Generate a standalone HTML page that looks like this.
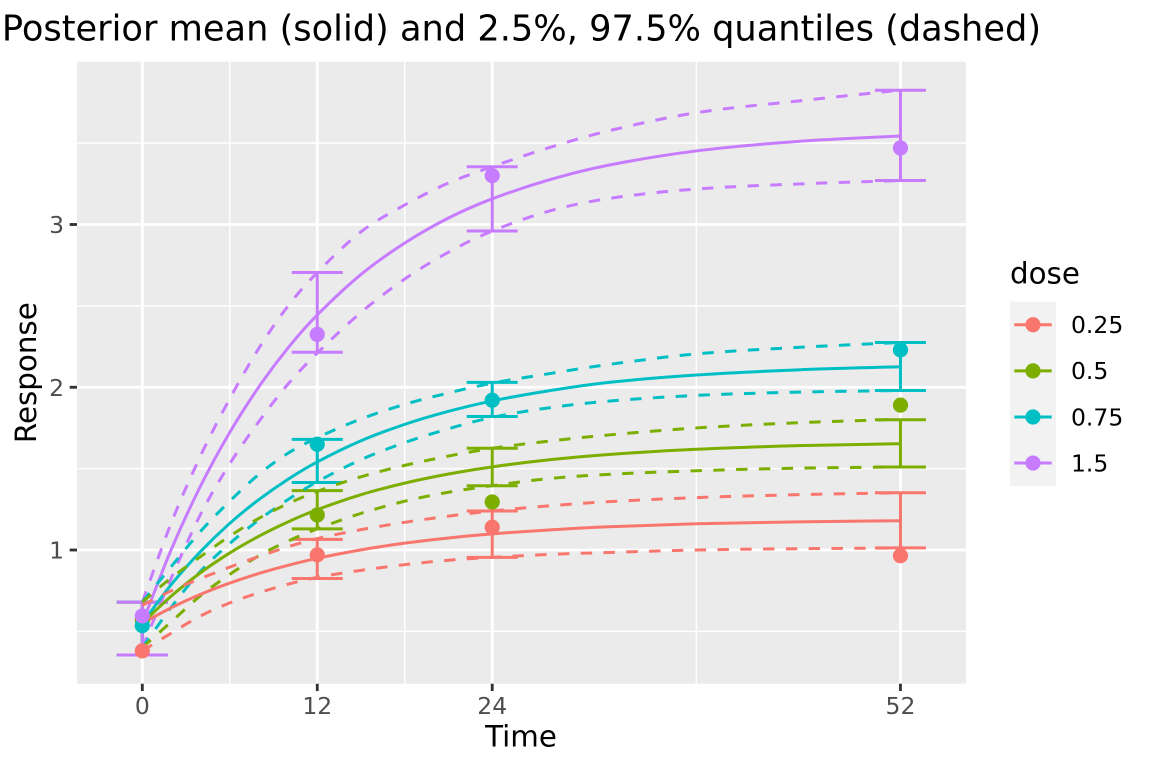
<!DOCTYPE html>
<html lang="en">
<head>
<meta charset="utf-8">
<title>Posterior mean and quantiles</title>
<style>
html,body{margin:0;padding:0;background:#fff;}
svg{display:block;}
text{font-family:"DejaVu Sans","Liberation Sans",sans-serif;}
</style>
</head>
<body>
<svg id="chart" xmlns="http://www.w3.org/2000/svg" width="1152" height="768" viewBox="0 0 1152 768">
  <rect x="0" y="0" width="1152" height="768" fill="#fff"/>
  <text x="521.5" y="40.7" font-size="35.2" text-anchor="middle" fill="#000">Posterior mean (solid) and 2.5%, 97.5% quantiles (dashed)</text>
  <rect x="77" y="61.7" width="889" height="622" fill="#EBEBEB"/>
  <g id="grid"></g>
  <g id="bars"></g>
  <g id="lines"></g>
  <g id="points"></g>
  <g id="axes"></g>
  <text x="521" y="746.7" font-size="29.33" text-anchor="middle" fill="#000">Time</text>
  <text transform="translate(36 372.7) rotate(-90)" font-size="29.33" text-anchor="middle" fill="#000">Response</text>
  <text x="1010" y="283.5" font-size="29.33" fill="#000">dose</text>
  <g id="legend"></g>
</svg>
<script>
// ---- data ----
const doses = ['0.25', '0.5', '0.75', '1.5'];
const doseColors = ['#F8766D', '#7CAE00', '#00BFC4', '#C77CFF'];
const xTicks = [0, 12, 24, 52];
const xMinorTicks = [6, 18, 38];
const yTicks = [1, 2, 3];
const yMinorTicks = [0.5, 1.5, 2.5, 3.5];

const curveTimes = [0, 2, 4, 6, 8, 10, 12, 15, 18, 21, 24, 28, 32, 38, 45, 52];
const meanDose025 = [0.55, 0.646, 0.728, 0.797, 0.856, 0.906, 0.949, 1.001, 1.042, 1.074, 1.099, 1.124, 1.143, 1.161, 1.173, 1.18];
const meanDose05 = [0.55, 0.718, 0.861, 0.982, 1.085, 1.173, 1.248, 1.34, 1.411, 1.467, 1.511, 1.555, 1.587, 1.619, 1.641, 1.653];
const meanDose075 = [0.55, 0.789, 0.991, 1.164, 1.31, 1.435, 1.541, 1.671, 1.772, 1.852, 1.916, 1.98, 2.03, 2.075, 2.107, 2.126];
const meanDose15 = [0.55, 1.006, 1.394, 1.723, 2.003, 2.242, 2.444, 2.693, 2.886, 3.04, 3.158, 3.277, 3.365, 3.452, 3.511, 3.544];

const upperDose025 = [0.66, 0.75, 0.825, 0.895, 0.96, 1.02, 1.07, 1.125, 1.17, 1.208, 1.24, 1.272, 1.297, 1.322, 1.34, 1.352];
const upperDose05 = [0.68, 0.83, 0.96, 1.085, 1.195, 1.285, 1.36, 1.45, 1.52, 1.577, 1.625, 1.67, 1.707, 1.75, 1.782, 1.803];
const upperDose075 = [0.68, 0.9, 1.115, 1.3, 1.465, 1.595, 1.69, 1.805, 1.895, 1.965, 2.025, 2.085, 2.14, 2.205, 2.245, 2.275];
const upperDose15 = [0.68, 1.17, 1.58, 1.93, 2.24, 2.5, 2.705, 2.955, 3.12, 3.255, 3.355, 3.475, 3.576, 3.687, 3.759, 3.826];

const lowerDose025 = [0.38, 0.49, 0.595, 0.675, 0.737, 0.79, 0.832, 0.875, 0.91, 0.937, 0.955, 0.973, 0.985, 1.0, 1.008, 1.012];
const lowerDose05 = [0.4, 0.56, 0.72, 0.85, 0.965, 1.055, 1.13, 1.225, 1.3, 1.355, 1.395, 1.44, 1.465, 1.487, 1.503, 1.51];
const lowerDose075 = [0.4, 0.65, 0.87, 1.04, 1.185, 1.31, 1.42, 1.555, 1.66, 1.745, 1.815, 1.875, 1.915, 1.95, 1.97, 1.98];
const lowerDose15 = [0.4, 0.83, 1.22, 1.53, 1.79, 2.02, 2.21, 2.46, 2.665, 2.83, 2.96, 3.085, 3.16, 3.218, 3.249, 3.27];

const obsTimes = [0, 12, 24, 52];
const obsDose025 = [0.38, 0.97, 1.14, 0.965];
const obsDose05 = [0.57, 1.215, 1.295, 1.89];
const obsDose075 = [0.535, 1.65, 1.92, 2.23];
const obsDose15 = [0.595, 2.325, 3.30, 3.47];

const barLowDose025 = [0.355, 0.825, 0.955, 1.013];
const barLowDose05 = [0.355, 1.13, 1.395, 1.51];
const barLowDose075 = [0.355, 1.415, 1.82, 1.98];
const barLowDose15 = [0.355, 2.215, 2.96, 3.27];
const barHighDose025 = [0.68, 1.065, 1.24, 1.352];
const barHighDose05 = [0.68, 1.365, 1.625, 1.80];
const barHighDose075 = [0.68, 1.68, 2.03, 2.275];
const barHighDose15 = [0.68, 2.705, 3.355, 3.825];

const means = [meanDose025, meanDose05, meanDose075, meanDose15];
const uppers = [upperDose025, upperDose05, upperDose075, upperDose15];
const lowers = [lowerDose025, lowerDose05, lowerDose075, lowerDose15];
const observations = [obsDose025, obsDose05, obsDose075, obsDose15];
const barLows = [barLowDose025, barLowDose05, barLowDose075, barLowDose15];
const barHighs = [barHighDose025, barHighDose05, barHighDose075, barHighDose15];

// ---- scales ----
const NS = 'http://www.w3.org/2000/svg';
function xScale(t) { return 142.3 + 14.58 * t; }
function yScale(v) { return 550 - (v - 1) * 162.75; }
const PANEL = { left: 77, right: 966, top: 61.7, bottom: 683.7 };
const LW = 2.85;
const MARK_LW = 3;
const CAP = 25.5;

function make(tag, parent, attrs) {
  const el = document.createElementNS(NS, tag);
  for (const k in attrs) el.setAttribute(k, attrs[k]);
  parent.appendChild(el);
  return el;
}

function curvePath(ts, vs) {
  const xs = ts.map(xScale);
  const ys = vs.map(yScale);
  const n = xs.length;
  const slope = [];
  for (let i = 0; i < n; i++) {
    const a = Math.max(i - 1, 0);
    const b = Math.min(i + 1, n - 1);
    slope.push((ys[b] - ys[a]) / (xs[b] - xs[a]));
  }
  let d = 'M' + xs[0].toFixed(2) + ' ' + ys[0].toFixed(2);
  for (let i = 0; i < n - 1; i++) {
    const dx = (xs[i + 1] - xs[i]) / 3;
    d += 'C' + (xs[i] + dx).toFixed(2) + ' ' + (ys[i] + slope[i] * dx).toFixed(2) + ' ' +
      (xs[i + 1] - dx).toFixed(2) + ' ' + (ys[i + 1] - slope[i + 1] * dx).toFixed(2) + ' ' +
      xs[i + 1].toFixed(2) + ' ' + ys[i + 1].toFixed(2);
  }
  return d;
}

// ---- gridlines ----
const grid = document.getElementById('grid');
yMinorTicks.forEach(function (v) {
  const el = make('line', grid, { x1: PANEL.left, x2: PANEL.right, y1: yScale(v), y2: yScale(v), stroke: '#fff', 'stroke-width': LW / 2 });
  
  
});
xMinorTicks.forEach(function (t) {
  const el = make('line', grid, { x1: xScale(t), x2: xScale(t), y1: PANEL.top, y2: PANEL.bottom, stroke: '#fff', 'stroke-width': LW / 2 });
  
  
});
yTicks.forEach(function (v) {
  const el = make('line', grid, { x1: PANEL.left, x2: PANEL.right, y1: yScale(v), y2: yScale(v), stroke: '#fff', 'stroke-width': LW });
  
  
});
xTicks.forEach(function (t) {
  const el = make('line', grid, { x1: xScale(t), x2: xScale(t), y1: PANEL.top, y2: PANEL.bottom, stroke: '#fff', 'stroke-width': LW });
  
  
});

// ---- error bars ----
const barsG = document.getElementById('bars');
doses.forEach(function (dose, d) {
  obsTimes.forEach(function (t, i) {
    const x = xScale(t);
    const lo = yScale(barLows[d][i]);
    const hi = yScale(barHighs[d][i]);
    const path = 'M' + (x - CAP) + ' ' + hi + 'H' + (x + CAP) + 'M' + x + ' ' + hi + 'V' + lo + 'M' + (x - CAP) + ' ' + lo + 'H' + (x + CAP);
    const el = make('path', barsG, { d: path, fill: 'none', stroke: doseColors[d], 'stroke-width': MARK_LW });
    
    
  });
});

// ---- curves (highest dose first, lowest on top) ----
const linesG = document.getElementById('lines');
for (let d = doses.length - 1; d >= 0; d--) {
  const upper = make('path', linesG, { d: curvePath(curveTimes, uppers[d]), fill: 'none', stroke: doseColors[d], 'stroke-width': MARK_LW, 'stroke-dasharray': '11.4 11.4' });
  
  
  const lower = make('path', linesG, { d: curvePath(curveTimes, lowers[d]), fill: 'none', stroke: doseColors[d], 'stroke-width': MARK_LW, 'stroke-dasharray': '11.4 11.4' });
  
  
  const mean = make('path', linesG, { d: curvePath(curveTimes, means[d]), fill: 'none', stroke: doseColors[d], 'stroke-width': MARK_LW });
  
  
}

// ---- points ----
const pointsG = document.getElementById('points');
doses.forEach(function (dose, d) {
  obsTimes.forEach(function (t, i) {
    const el = make('circle', pointsG, { cx: xScale(t), cy: yScale(observations[d][i]), r: 7.6, fill: doseColors[d] });
    
    
  });
});

// ---- axes ----
const axesG = document.getElementById('axes');
xTicks.forEach(function (t) {
  const tick = make('line', axesG, { x1: xScale(t), x2: xScale(t), y1: PANEL.bottom, y2: PANEL.bottom + 7.33, stroke: '#333333', 'stroke-width': LW });
  
  
  const label = make('text', axesG, { x: xScale(t), y: 714, 'font-size': 23.47, 'text-anchor': 'middle', fill: '#4D4D4D' });
  label.textContent = String(t);
  
  
});
yTicks.forEach(function (v) {
  const tick = make('line', axesG, { x1: PANEL.left - 7.33, x2: PANEL.left, y1: yScale(v), y2: yScale(v), stroke: '#333333', 'stroke-width': LW });
  
  
  const label = make('text', axesG, { x: 64, y: yScale(v) + 8.5, 'font-size': 23.47, 'text-anchor': 'end', fill: '#4D4D4D' });
  label.textContent = String(v);
  
  
});

// ---- legend ----
const legendG = document.getElementById('legend');
doses.forEach(function (dose, d) {
  const top = 301.7 + d * 46.1;
  const cy = top + 23.05;
  const entry = make('g', legendG, {});
  
  
  const key = make('rect', entry, { x: 1010, y: top, width: 46, height: 46.1, fill: '#F2F2F2' });
  
  
  const line = make('line', entry, { x1: 1014.3, x2: 1051.7, y1: cy, y2: cy, stroke: doseColors[d], 'stroke-width': MARK_LW });
  
  
  const dot = make('circle', entry, { cx: 1033, cy: cy, r: 7.6, fill: doseColors[d] });
  
  
  const label = make('text', entry, { x: 1071, y: cy + 8.3, 'font-size': 23.47, fill: '#000' });
  label.textContent = dose;
  
  
});
</script>
</body>
</html>
